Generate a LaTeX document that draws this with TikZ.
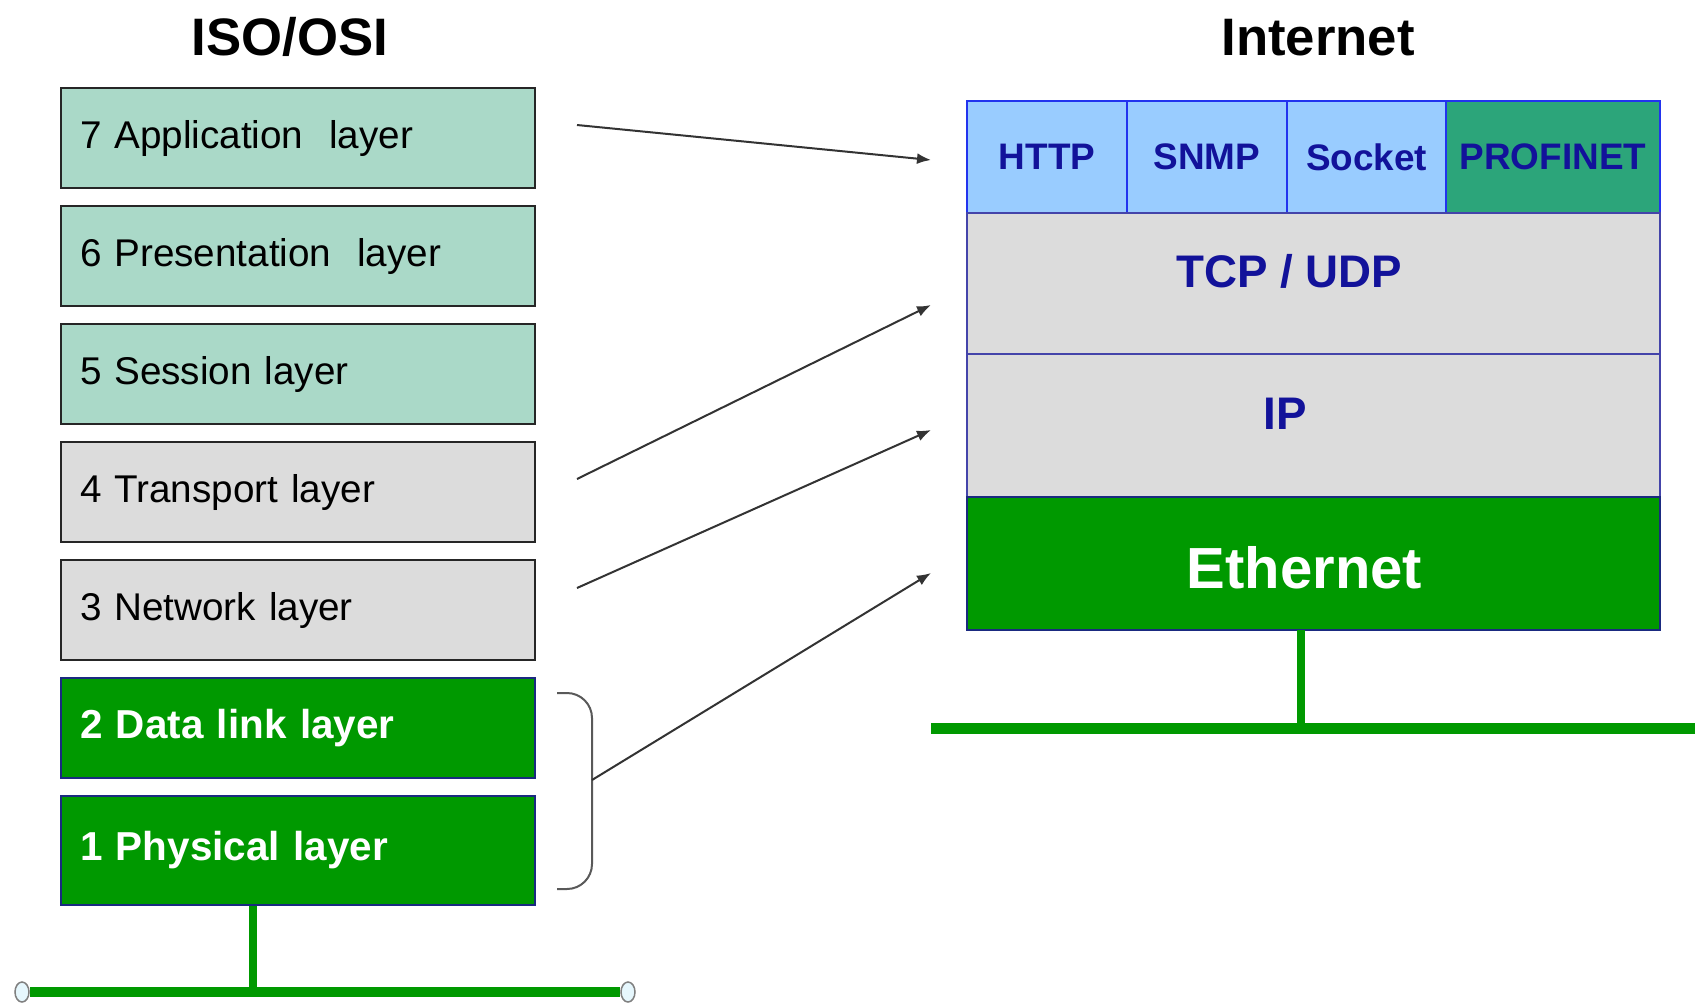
\documentclass[tikz,border=0pt]{standalone}
\usepackage{fontspec}
\setmainfont{Liberation Sans}
\usetikzlibrary{arrows.meta, positioning, calc, shapes.geometric}
\definecolor{mint}{HTML}{AAD9C8}
\definecolor{lgray}{HTML}{DCDCDC}
\definecolor{ethgreen}{HTML}{009900}
\definecolor{skyblue}{HTML}{99CCFF}
\definecolor{pngreen}{HTML}{2CA57A}
\definecolor{navy}{HTML}{12129A}
\definecolor{rimblue}{HTML}{2233EE}
\definecolor{slate}{HTML}{4444AA}
\definecolor{darkrim}{HTML}{1A2A80}

\begin{document}
\begin{tikzpicture}[x=0.1mm, y=-0.1mm,
  title/.style={font=\bfseries\fontsize{15}{17}\selectfont, anchor=base},
  osi/.style={draw=black!85, line width=0.2mm, minimum height=10mm, text width=4.36cm,
    inner xsep=1.9mm, align=left, anchor=north west, font=\fontsize{11}{13}\selectfont},
  upper/.style={osi, fill=mint},
  middle/.style={osi, fill=lgray},
  lower/.style={osi, fill=ethgreen, draw=darkrim, text=white, font=\bfseries\fontsize{11.5}{13}\selectfont},
  proto/.style={draw=rimblue, line width=0.25mm, fill=skyblue, minimum height=11.2mm, inner sep=0pt,
    outer sep=0pt, text=navy, font=\bfseries\fontsize{10.5}{12}\selectfont},
  stack/.style={draw=slate, line width=0.25mm, fill=lgray, minimum width=69.3cm/10, inner sep=0pt,
    outer sep=0pt},
  stacktext/.style={text=navy, font=\bfseries\fontsize{13}{15}\selectfont},
  link/.style={-{Latex[length=1.4mm, width=1.1mm]}, draw=black!80, line width=0.2mm},
  bus/.style={draw=ethgreen, line width=1mm},
  drop/.style={draw=ethgreen, line width=0.75mm},
  endcap/.style={ellipse, draw=gray, fill=cyan!10, line width=0.15mm, minimum width=1.4mm,
    minimum height=2mm, inner sep=0pt},
  brace/.style={draw=black!65, line width=0.2mm, rounded corners=2.5mm}]
  \useasboundingbox (0,0) rectangle (1704,1006);

  % titles
  \node[title] (isoT) at (290,55) {ISO/OSI};
  \node[title] (netT) at (1318,55) {Internet};

  % ISO/OSI layers
  \node[upper] (l7) at (60,87) {7 Application\ \ layer};
  \node[upper, below=1.6mm of l7] (l6) {6 Presentation\ \ layer};
  \node[upper, below=1.6mm of l6] (l5) {5 Session layer};
  \node[middle, below=1.6mm of l5] (l4) {4 Transport layer};
  \node[middle, below=1.6mm of l4] (l3) {3 Network layer};
  \node[lower, below=1.6mm of l3] (l2) {2 Data link layer};
  \node[lower, below=1.6mm of l2, minimum height=10.9mm] (l1) {1 Physical layer};

  % Internet stack
  \node[proto, minimum width=16mm, anchor=north west] (http) at (967,101) {HTTP};
  \node[proto, minimum width=16mm, right=0pt of http] (snmp) {SNMP};
  \node[proto, minimum width=15.9mm, right=0pt of snmp] (sock) {Socket};
  \node[proto, minimum width=21.4mm, fill=pngreen, right=0pt of sock] (pnet) {PROFINET};
  \node[stack, minimum height=14.1mm, below right=0pt and 0pt of http.south west,
    label={[stacktext, xshift=-2.4mm, yshift=1.2mm]center:TCP / UDP}] (tcp) {};
  \node[stack, minimum height=14.3mm, below right=0pt and 0pt of tcp.south west,
    label={[stacktext, xshift=-2.8mm, yshift=1.2mm]center:IP}] (ip) {};
  \node[stack, minimum height=13.3mm, fill=ethgreen, draw=darkrim, below right=0pt and 0pt of ip.south west,
    label={[text=white, font=\bfseries\fontsize{16.5}{19}\selectfont, xshift=-0.9mm, yshift=-0.4mm]center:Ethernet}] (eth) {};

  % bracket over layers 1 and 2
  \draw[brace] (557,693) -- (592,693) -- (592,889) -- (557,889);
  \coordinate (bmid) at (592,780);

  % mapping arrows
  \draw[link] ([shift={(4.1mm,1.3mm)}]l7.east) -- ([shift={(-3.6mm,-0.3mm)}]http.west);
  \draw[link] ([shift={(4.1mm,1.3mm)}]l4.east) -- ([shift={(-3.6mm,-2.15mm)}]tcp.west);
  \draw[link] ([shift={(4.1mm,2.2mm)}]l3.east) -- ([shift={(-3.6mm,-0.45mm)}]ip.west);
  \draw[link] (bmid) -- ([shift={(-3.6mm,-0.95mm)}]eth.west);

  % buses
  \coordinate (lbus) at (253,992);
  \node[endcap] (capl) at (22,992) {};
  \node[endcap] (capr) at (628,992) {};
  \draw[bus] (capl) -- (capr);
  \draw[drop] (l1.south -| lbus) -- (lbus);

  \coordinate (rbus) at (1301,728);
  \coordinate (rbl) at (931,728);
  \coordinate (rbr) at (1695,728);
  \draw[bus, line width=1.1mm] (rbl) -- (rbr);
  \draw[drop, line width=0.85mm] (eth.south -| rbus) -- (rbus);
\end{tikzpicture}
\end{document}
